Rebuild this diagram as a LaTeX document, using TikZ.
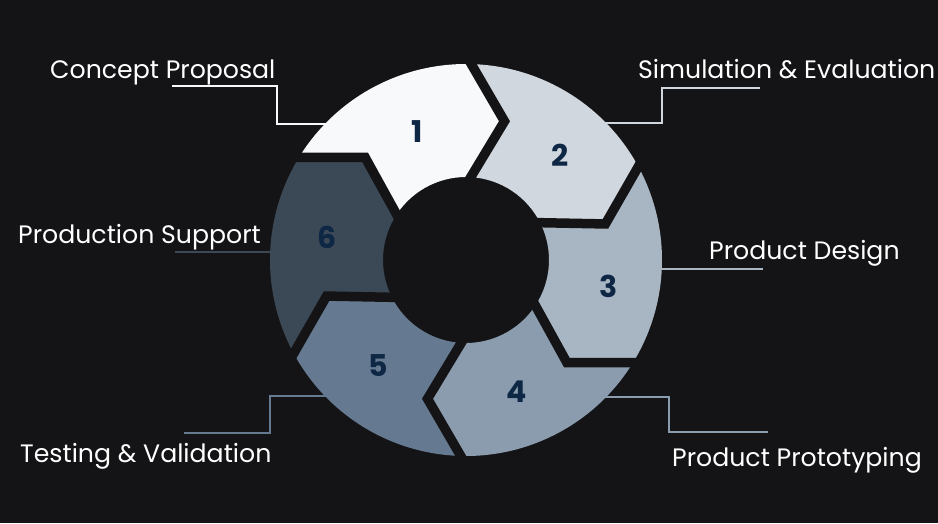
\documentclass[tikz,border=0pt]{standalone}
\usepackage{fontspec}
\setmainfont{Poppins}
\usetikzlibrary{calc}
\definecolor{bg}{HTML}{141416}
\definecolor{s1}{HTML}{F7F9FB}
\definecolor{s2}{HTML}{D0D7DE}
\definecolor{s3}{HTML}{A8B5C3}
\definecolor{s4}{HTML}{8A9CAE}
\definecolor{s5}{HTML}{657990}
\definecolor{s6}{HTML}{3B4856}
\definecolor{num}{HTML}{0E2744}
\begin{document}
\begin{tikzpicture}[x=1pt,y=-1pt,
 lbl/.style={anchor=base west, inner sep=0pt, text=white, font=\fontsize{25.2}{29}\selectfont},
 numlbl/.style={inner sep=0pt, text=num, font=\fontsize{30}{34}\selectfont\bfseries},
 lead/.style={line width=2pt},
 gap/.style={draw=bg, line width=9.5pt, miter limit=10, line join=miter}]
\fill[bg] (0,0) rectangle (938,523);
\useasboundingbox (0,0) rectangle (938,523);
\coordinate (C) at (466,260);
% labels
\node[lbl] (l1) at (50,78) {Concept Proposal};
\node[lbl] (l2) at (638,78) {Simulation \& Evaluation};
\node[lbl] (l3) at (709,259) {Product Design};
\node[lbl] (l4) at (672,466) {Product Prototyping};
\node[lbl] (l5) at (20,462) {Testing \& Validation};
\node[lbl] (l6) at (18,243) {Production Support};
% leaders
\draw[lead, s1] (172,86) -- (277,86) -- (277,124) -- (340,124);
\draw[lead, s2] (760,88) -- (662,88) -- (662,123) -- (590,123);
\draw[lead, s3] (763,269) -- (640,269);
\draw[lead, s4] (768,432) -- (669,432) -- (669,397) -- (590,397);
\draw[lead, s5] (184,433) -- (270,433) -- (270,396) -- (340,396);
\draw[lead, s6] (175,252) -- (290,252);
% segments
\foreach \a/\col in {150/s1, 90/s2, 30/s3, -30/s4, -90/s5, -150/s6} {
  \pgfmathsetmacro\b{\a-60}
  \pgfmathsetmacro\tb{\b-15.5}
  \pgfmathsetmacro\ta{\a-15.5}
  \fill[\col] ([shift={(\a:196pt)}]C) arc[start angle=\a, end angle=\b, radius=196pt]
    -- ([shift={(\tb:144pt)}]C) -- ([shift={(\b:83pt)}]C)
    arc[start angle=\b, end angle=\a, radius=83pt]
    -- ([shift={(\ta:144pt)}]C) -- cycle;
}
\foreach \a in {150,90,30,-30,-90,-150} {
  \pgfmathsetmacro\t{\a-15.5}
  \draw[gap] ([shift={(\a:205pt)}]C) -- ([shift={(\t:144pt)}]C) -- ([shift={(\a:75pt)}]C);
}
% numbers
\node[numlbl] (n1) at (417,132) {1};
\node[numlbl] (n2) at (560,155) {2};
\node[numlbl] (n3) at (609,286) {3};
\node[numlbl] (n4) at (517,392) {4};
\node[numlbl] (n5) at (378,366) {5};
\node[numlbl] (n6) at (327,237) {6};
\end{tikzpicture}
\end{document}
